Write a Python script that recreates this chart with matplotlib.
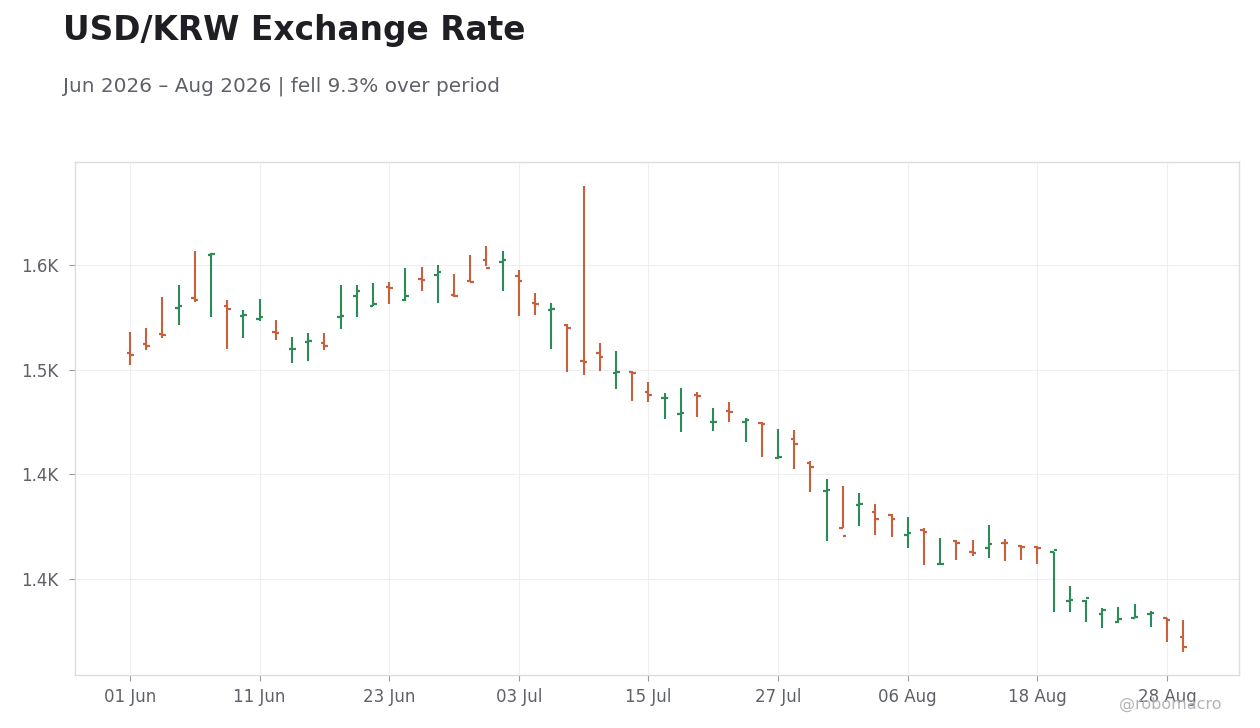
import matplotlib
matplotlib.use("Agg")
import matplotlib.pyplot as plt
from matplotlib.ticker import FuncFormatter
import numpy as np
import pandas as pd

# business days Jun - Aug 2026
dates = pd.bdate_range("2026-06-01", "2026-08-31")

opens = [1508.1, 1512.4, 1517.2, 1529.6, 1534.4, 1554.6, 1530.3, 1525.8, 1524.3, 1517.9,
         1509.7, 1513.4, 1512.9, 1525.0, 1535.3, 1530.6, 1539.6, 1533.4, 1543.5, 1545.4,
         1535.8, 1542.5, 1552.5, 1551.6, 1544.9, 1532.0, 1528.6, 1521.5, 1504.3, 1507.8,
         1498.3, 1498.7, 1489.2, 1486.3, 1478.9, 1488.0, 1475.0, 1480.4, 1475.1, 1474.7,
         1457.8, 1467.0, 1455.6, 1442.2, 1424.5, 1435.5, 1432.0, 1430.7, 1421.2, 1423.6,
         1407.1, 1418.3, 1412.7, 1415.0, 1417.4, 1415.9, 1415.1, 1412.8, 1389.5, 1389.6,
         1383.4, 1379.4, 1381.4, 1383.4, 1381.2, 1372.2]
highs = [1518.0, 1519.9, 1534.7, 1540.4, 1556.7, 1555.6, 1533.3, 1528.5, 1533.8, 1523.7,
         1515.6, 1517.5, 1517.5, 1540.4, 1540.4, 1541.4, 1541.9, 1548.6, 1549.0, 1550.0,
         1545.7, 1554.8, 1559.1, 1556.7, 1547.6, 1536.6, 1531.8, 1521.8, 1587.7, 1512.7,
         1508.9, 1499.2, 1494.1, 1488.9, 1491.2, 1489.3, 1481.7, 1484.6, 1476.9, 1475.0,
         1471.7, 1471.2, 1456.4, 1447.8, 1444.4, 1441.1, 1435.8, 1431.1, 1429.6, 1424.4,
         1419.6, 1418.6, 1418.6, 1425.8, 1419.1, 1416.2, 1415.8, 1413.0, 1396.7, 1390.0,
         1386.1, 1386.6, 1388.1, 1384.7, 1381.2, 1380.3]
lows = [1502.4, 1509.5, 1515.3, 1521.5, 1532.5, 1525.3, 1510.0, 1515.3, 1523.4, 1514.3,
        1503.3, 1504.3, 1509.5, 1519.4, 1525.3, 1530.3, 1531.5, 1532.9, 1537.7, 1532.0,
        1534.9, 1541.8, 1549.7, 1537.7, 1525.8, 1526.3, 1510.0, 1499.0, 1497.6, 1499.5,
        1490.9, 1485.2, 1484.7, 1476.6, 1470.4, 1477.5, 1470.8, 1475.1, 1465.6, 1458.4,
        1457.5, 1452.7, 1441.7, 1418.3, 1424.5, 1425.5, 1421.2, 1420.2, 1415.0, 1406.8,
        1407.0, 1409.2, 1411.1, 1410.2, 1408.7, 1409.1, 1407.3, 1384.4, 1384.4, 1379.6,
        1376.7, 1379.1, 1381.2, 1377.2, 1370.0, 1365.3]
closes = [1507.2, 1511.4, 1516.4, 1530.6, 1533.4, 1555.1, 1529.1, 1526.3, 1525.3, 1517.7,
          1510.0, 1513.8, 1511.4, 1525.8, 1537.7, 1531.5, 1539.2, 1535.3, 1543.0, 1546.8,
          1535.2, 1541.9, 1548.6, 1552.2, 1542.5, 1531.4, 1529.1, 1520.0, 1503.7, 1506.2,
          1498.7, 1498.3, 1488.0, 1486.6, 1479.1, 1487.6, 1475.2, 1479.8, 1476.1, 1474.2,
          1458.4, 1464.6, 1453.6, 1442.7, 1420.7, 1436.0, 1428.7, 1428.7, 1421.8, 1422.6,
          1407.3, 1417.3, 1412.5, 1416.9, 1417.2, 1415.3, 1414.9, 1414.0, 1389.7, 1391.1,
          1385.3, 1381.0, 1381.6, 1383.9, 1380.6, 1367.7]

UP = "#2e8b57"
DOWN = "#c8603e"

x = np.arange(len(dates))
o = np.array(opens)
c = np.array(closes)
cols = [UP if cc >= oo else DOWN for oo, cc in zip(o, c)]

fig = plt.figure(figsize=(12.6, 7.28), dpi=100)
ax = fig.add_axes([75 / 1260, 1 - 675 / 728, (1239 - 75) / 1260, (675 - 162) / 728])

ax.vlines(x, lows, highs, colors=cols, linewidth=1.5)
ax.hlines(o, x - 0.22, x, colors=cols, linewidth=1.6)
ax.hlines(c, x, x + 0.22, colors=cols, linewidth=1.6)

ax.set_xlim(-3.4, 68.45)
ax.set_ylim(1354.1, 1599.2)

tick_idx = list(range(0, len(dates), 8))
ax.set_xticks(tick_idx)
ax.set_xticklabels([dates[i].strftime("%d %b") for i in tick_idx])
ax.set_yticks([1400, 1450, 1500, 1550])
ax.yaxis.set_major_formatter(FuncFormatter(lambda v, p: f"{v / 1000:.1f}K"))

ax.grid(True, color="#efefef", linewidth=0.8)
ax.set_axisbelow(True)
for s in ax.spines.values():
    s.set_color("#dddddd")
    s.set_linewidth(1.0)
ax.tick_params(axis="both", colors="#9a9a9a", labelcolor="#5f6168", labelsize=12,
               length=4, width=0.8)
ax.tick_params(axis="y", pad=8)
ax.tick_params(axis="x", pad=5)

fig.text(63 / 1260, 1 - 40 / 728, "USD/KRW Exchange Rate", fontsize=23.7,
         fontweight="bold", color="#1e1e24", va="baseline")
fig.text(63 / 1260, 1 - 91 / 728, "Jun 2026 \u2013 Aug 2026 | fell 9.3% over period",
         fontsize=14.4, color="#5f6168", va="baseline")
fig.text(1222 / 1260, 1 - 709 / 728, "@robomacro", fontsize=11.5, color="#b4b4b8",
         ha="right", va="baseline")

fig.savefig("out.png", dpi=100)
